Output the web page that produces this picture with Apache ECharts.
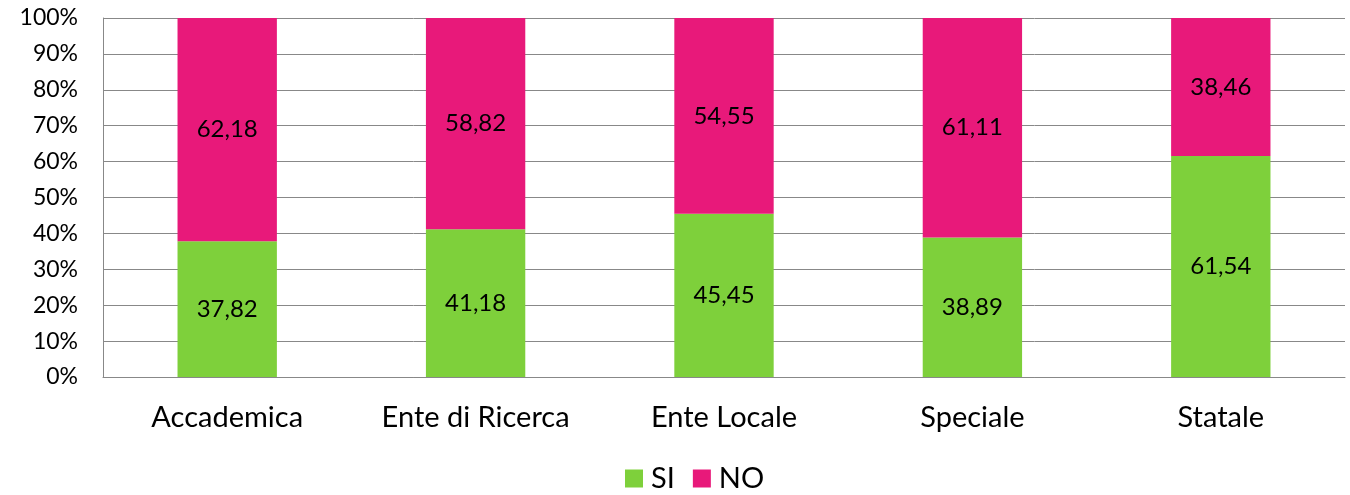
<!DOCTYPE html>
<html>
<head>
<meta charset="utf-8">
<script src="https://cdn.jsdelivr.net/npm/echarts@6/dist/echarts.min.js"></script>
<style>
  html, body { margin: 0; padding: 0; background: #fff; }
  #main { width: 1350px; height: 495px; }
</style>
</head>
<body>
<div id="main"></div>
<script>
var categories = ['Accademica', 'Ente di Ricerca', 'Ente Locale', 'Speciale', 'Statale'];
var siValues = [37.82, 41.18, 45.45, 38.89, 61.54];
var noValues = [62.18, 58.82, 54.55, 61.11, 38.46];

var fontName = 'Lato, "Open Sans", sans-serif';

function fmt(p) {
  return p.value.toFixed(2).replace('.', ',');
}

var chart = echarts.init(document.getElementById('main'));
chart.setOption({
  animation: false,
  grid: { left: 103, right: 5, top: 18, bottom: 118 },
  legend: {
    top: 464,
    left: 625,
    padding: 0,
    itemWidth: 18,
    itemHeight: 18,
    itemGap: 18,
    icon: 'rect',
    textStyle: { fontFamily: fontName, fontSize: 29, color: '#000', padding: [0, 0, 0, 3] },
    data: ['SI', 'NO']
  },
  xAxis: {
    type: 'category',
    data: categories,
    axisLine: { lineStyle: { color: '#888' } },
    axisTick: { show: false },
    axisLabel: { fontFamily: fontName, fontSize: 29, color: '#000', margin: 26 }
  },
  yAxis: {
    type: 'value',
    min: 0,
    max: 100,
    interval: 10,
    axisLine: { show: true, lineStyle: { color: '#888' } },
    axisTick: { show: false },
    splitLine: { lineStyle: { color: '#888' } },
    axisLabel: {
      fontFamily: fontName, fontSize: 23, color: '#000', margin: 25,
      formatter: '{value}%'
    }
  },
  series: [
    {
      name: 'SI',
      type: 'bar',
      stack: 'tot',
      barWidth: '40%',
      data: siValues,
      itemStyle: { color: '#7ED03B' },
      label: { show: true, position: 'inside', formatter: fmt, fontFamily: fontName, fontSize: 24, color: '#000' }
    },
    {
      name: 'NO',
      type: 'bar',
      stack: 'tot',
      barWidth: '40%',
      data: noValues,
      itemStyle: { color: '#E8197A' },
      label: { show: true, position: 'inside', formatter: fmt, fontFamily: fontName, fontSize: 24, color: '#000' }
    }
  ]
});
</script>
</body>
</html>
